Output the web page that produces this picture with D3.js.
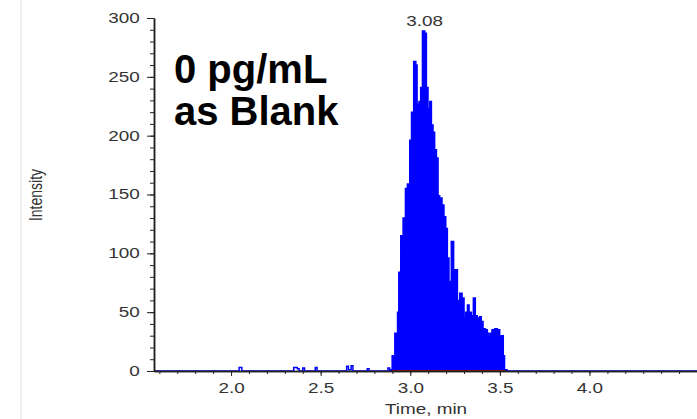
<!DOCTYPE html>
<html lang="en">
<head>
  <meta charset="UTF-8">
  <title>XIC 0 pg/mL blank</title>
<style>
  body { margin: 0; background: #fff; }
  svg { display: block; font-family: "Liberation Sans", Arial, sans-serif; }
</style>
</head>
<body>

<svg id="chart" width="697" height="419"></svg>

<script src="https://cdn.jsdelivr.net/npm/d3@7"></script>

<script>

// chromatogram trace, time (min) and intensity
var times = [1.57, 2.03, 2.045, 2.06, 2.33, 2.35, 2.37, 2.38, 2.40, 2.41, 2.46, 2.47, 2.48,
  2.63, 2.645, 2.655, 2.67, 2.68, 2.75, 2.76, 2.77, 2.86, 2.875, 2.885, 2.89,
  2.899, 2.914, 2.929, 2.936, 2.947, 2.960, 2.973, 2.984, 2.997, 3.007, 3.019, 3.031,
  3.038, 3.049, 3.058, 3.068, 3.081, 3.090, 3.099, 3.109, 3.118, 3.127, 3.136, 3.146,
  3.155, 3.164, 3.177, 3.188, 3.198, 3.207, 3.216, 3.229, 3.242, 3.263, 3.276, 3.289,
  3.300, 3.309, 3.319, 3.328, 3.341, 3.352, 3.363, 3.374, 3.387, 3.396, 3.406, 3.419,
  3.430, 3.439, 3.448, 3.456, 3.471, 3.486, 3.499, 3.508, 3.519, 3.526, 3.54, 4.60];
var intensity = [0, 0, 3, 0, 0, 3, 2, 0, 2.5, 0, 0, 3, 0,
  0, 4, 1, 4.5, 0, 0, 2, 0, 0, 2.5, 0, 1,
  13, 32, 50, 84, 115, 130, 155, 159, 196, 220, 263, 260,
  227, 229, 241, 289, 287, 241, 223, 229, 209, 203, 188, 181,
  149, 147, 141, 131, 121, 96, 76, 110, 86, 60, 66, 62,
  45, 50, 56, 50, 47, 62, 47, 45, 46, 42, 36, 35,
  32, 29, 32, 35, 36, 35, 29, 30, 13, 1, 0, 0];

var apexTime = 3.08;
var integStart = 2.90, integEnd = 3.53;
var xTicks = [2.0, 2.5, 3.0, 3.5, 4.0];
var yTicks = [0, 50, 100, 150, 200, 250, 300];
var titleLines = ["0 pg/mL", "as Blank"];

var svg = d3.select("#chart"),
  width = +svg.attr("width"),
  height = +svg.attr("height"),
  stretch = 1.35;

var x = d3.scaleLinear().domain([1.57, 4.6]).range([154, 697]),
  y = d3.scaleLinear().domain([0, 300]).range([371, 18]);

var data = times.map(function (t, i) { return { t: t, v: intensity[i] }; });
var peak = data.filter(function (d) { return d.t >= 2.89 && d.t <= 3.54; });

// faint frame line on the left
svg.append("line")
  .attr("x1", 21).attr("x2", 21).attr("y1", 0).attr("y2", height)
  .attr("stroke", "#ececec").attr("stroke-width", 1.5);

// filled peak
svg.append("path")
  .datum(peak)
  .attr("fill", "#0000ff")
  .attr("d", d3.area()
    .curve(d3.curveStepAfter)
    .x(function (d) { return x(d.t); })
    .y0(y(0))
    .y1(function (d) { return y(d.v); }));

// whole trace as a line (baseline noise drawn as small bumps)
svg.append("path")
  .datum(data)
  .attr("fill", "none")
  .attr("stroke", "#0000ff")
  .attr("stroke-width", 1.5)
  .attr("d", d3.line()
    .curve(d3.curveStepAfter)
    .x(function (d) { return x(d.t); })
    .y(function (d) { return y(d.v); }));

// integration baseline
svg.append("line")
  .attr("x1", x(integStart)).attr("x2", x(integEnd))
  .attr("y1", y(0)).attr("y2", y(0))
  .attr("stroke", "#b00000").attr("stroke-width", 2);

// axes
var yAxis = svg.append("g")
  .attr("transform", "translate(154,0)")
  .call(d3.axisLeft(y).tickValues(yTicks).tickSize(7).tickSizeOuter(0).tickPadding(0));
yAxis.selectAll(".tick text")
  .attr("x", -10.5)
  .attr("transform", "scale(" + stretch + ",1)");

svg.append("g")
  .attr("transform", "translate(154,0)")
  .call(d3.axisLeft(y).tickValues(d3.range(0, 301, 10)).tickSize(4).tickSizeOuter(0).tickFormat(""));

var xAxis = svg.append("g")
  .attr("transform", "translate(0," + y(0) + ")")
  .call(d3.axisBottom(x).tickValues(xTicks).tickSize(5).tickSizeOuter(0).tickFormat(d3.format(".1f")));
xAxis.selectAll(".tick text")
  .attr("y", 12)
  .attr("dy", "0.71em")
  .attr("transform", "scale(" + stretch + ",1)");

svg.append("g")
  .attr("transform", "translate(0," + y(0) + ")")
  .call(d3.axisBottom(x).tickValues(d3.range(16, 46).map(function (d) { return d / 10; }))
    .tickSize(3).tickSizeOuter(0).tickFormat(""));

svg.selectAll(".domain").attr("stroke", "#222").attr("stroke-width", 1.5);
svg.selectAll(".tick line").attr("stroke", "#222");
svg.selectAll(".tick text").attr("font-size", 14).attr("fill", "#333")
  .attr("font-family", "Liberation Sans, Arial, sans-serif");

// axis titles
svg.append("text")
  .attr("transform", "translate(426,414) scale(" + stretch + ",1)")
  .attr("text-anchor", "middle")
  .attr("font-size", 14)
  .attr("fill", "#333")
  .text("Time, min");

svg.append("text")
  .attr("transform", "translate(42,195) scale(" + stretch + ",1) rotate(-90)")
  .attr("text-anchor", "middle")
  .attr("font-size", 14)
  .attr("fill", "#333")
  .text("Intensity");

// apex label
svg.append("text")
  .attr("transform", "translate(" + x(apexTime) + ",26) scale(" + stretch + ",1)")
  .attr("text-anchor", "middle")
  .attr("font-size", 14)
  .attr("fill", "#333")
  .text(apexTime.toFixed(2));

// sample annotation
svg.append("g").selectAll("text")
  .data(titleLines)
  .enter().append("text")
  .attr("x", 174)
  .attr("y", function (d, i) { return 83 + i * 42; })
  .attr("font-size", 40)
  .attr("font-weight", "bold")
  .attr("fill", "#000")
  .text(function (d) { return d; });

</script>

</body>
</html>
